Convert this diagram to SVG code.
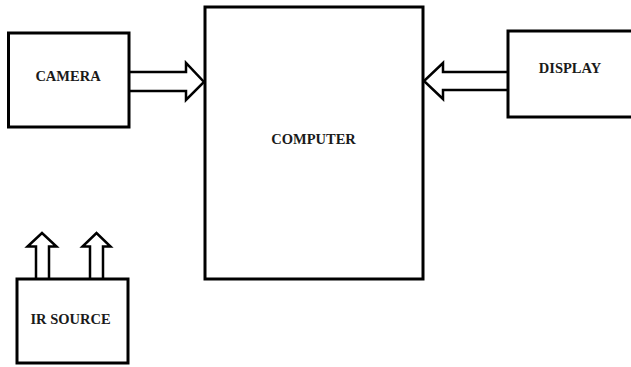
<svg xmlns="http://www.w3.org/2000/svg" width="631" height="367" viewBox="0 0 631 367">
<style>
.box{fill:#fff;stroke:#000;stroke-width:3}
.arr{fill:#fff;stroke:#000;stroke-width:2.5;stroke-linejoin:miter}
.lbl{font-family:"Liberation Serif","Times New Roman",serif;font-weight:bold;font-size:14.5px;fill:#1a1a1a}
</style>
<rect width="631" height="367" fill="#fff"/>
<g id="connectors">
<polyline class="arr" points="129,72 186,72 186,63 204,82 186,100 186,91 129,91"/>
<polyline class="arr" points="508,72 443,72 443,63 424,81 443,99 443,90 508,90"/>
<polyline class="arr" points="36,279 36,246.5 27.5,246.5 42,233 56.5,246.5 49,246.5 49,279"/>
<polyline class="arr" points="90,279 90,246.5 82.5,246.5 96.5,233 110.5,246.5 103,246.5 103,279"/>
</g>
<g id="camera">
<rect class="box" x="8.5" y="33" width="120.5" height="94"/>
<text class="lbl" x="68" y="80.5" text-anchor="middle">CAMERA</text>
</g>
<g id="computer">
<rect class="box" x="205" y="7" width="218" height="272"/>
<text class="lbl" x="313.5" y="144" text-anchor="middle">COMPUTER</text>
</g>
<g id="display">
<rect class="box" x="508" y="31" width="130" height="86"/>
<text class="lbl" x="570" y="73" text-anchor="middle">DISPLAY</text>
</g>
<g id="ir-source">
<rect class="box" x="17" y="279" width="111" height="84"/>
<text class="lbl" x="70.5" y="323.5" text-anchor="middle">IR SOURCE</text>
</g>
</svg>
